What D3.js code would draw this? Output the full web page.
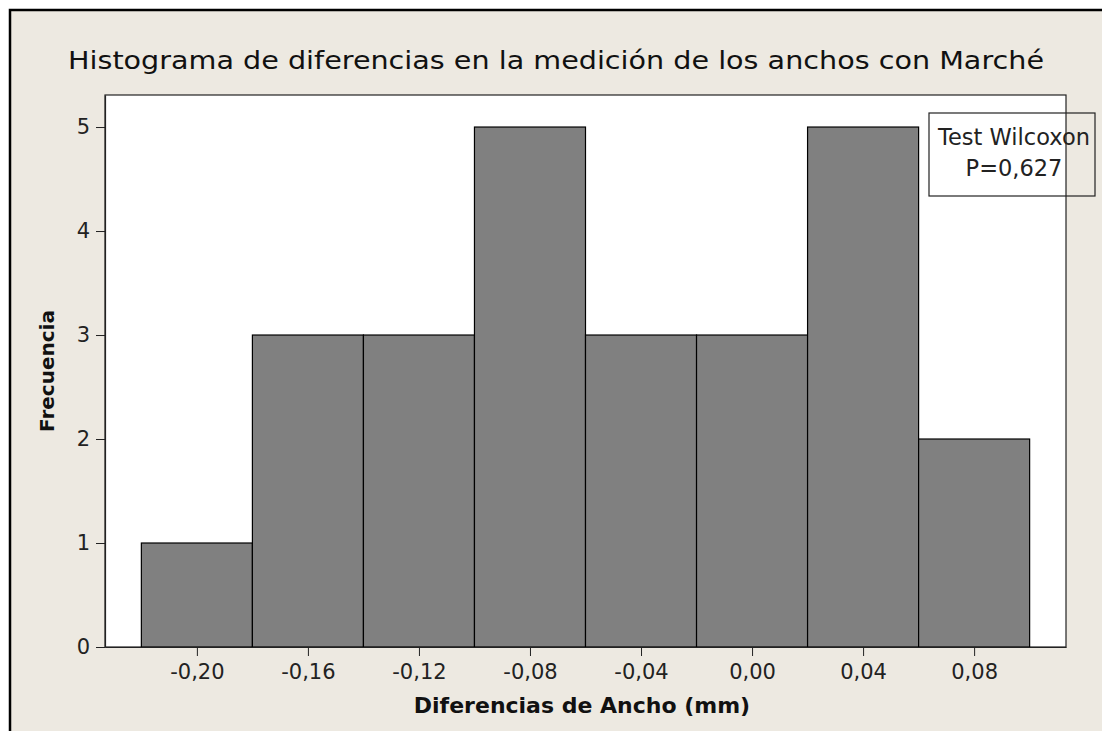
<!DOCTYPE html>
<html>
<head>
<meta charset="utf-8">
<script src="https://cdn.jsdelivr.net/npm/d3@7"></script>
<style>
  body { margin: 0; background: #fff; }
  svg { display: block; }
</style>
</head>
<body>
<svg id="svg" width="1102" height="731"></svg>
<script>
// bin centres and counts
const binCenters = [-0.20, -0.16, -0.12, -0.08, -0.04, 0.00, 0.04, 0.08]
const counts = [1, 3, 3, 5, 3, 3, 5, 2]
const binWidth = 0.04
const xTicks = [-0.20, -0.16, -0.12, -0.08, -0.04, 0.00, 0.04, 0.08]
const yTicks = [0, 1, 2, 3, 4, 5]
const legendLines = ['Test Wilcoxon', 'P=0,627']

const width = 1102
const height = 731
const plot = { left: 105, top: 95, right: 1066, bottom: 647 }
const font = '"DejaVu Sans", Verdana, sans-serif'

const svg = d3.select('#svg')

// background panel with the top/left frame
svg.append('rect')
  .attr('x', 10).attr('y', 10)
  .attr('width', width - 10).attr('height', height - 10)
  .attr('fill', '#ede9e1')
svg.append('path')
  .attr('d', `M10,${height} V10 H${width}`)
  .attr('fill', 'none')
  .attr('stroke', '#000')
  .attr('stroke-width', 2.5)

const x = d3.scaleLinear()
  .domain([-0.2331, 0.1131])
  .range([plot.left, plot.right])

const y = d3.scaleLinear()
  .domain([0, 5.308])
  .range([plot.bottom, plot.top])

// plot area
svg.append('rect')
  .attr('x', plot.left).attr('y', plot.top)
  .attr('width', plot.right - plot.left).attr('height', plot.bottom - plot.top)
  .attr('fill', '#fff')
  .attr('stroke', '#222')
  .attr('stroke-width', 1.2)

// bars
svg.append('g')
  .selectAll('rect')
  .data(binCenters.map((c, i) => ({ c, n: counts[i] })))
  .join('rect')
  .attr('x', d => x(d.c - binWidth / 2))
  .attr('y', d => y(d.n))
  .attr('width', d => x(d.c + binWidth / 2) - x(d.c - binWidth / 2))
  .attr('height', d => y(0) - y(d.n))
  .attr('fill', '#808080')
  .attr('stroke', '#000')
  .attr('stroke-width', 1.2)

const fmt = v => d3.format('.2f')(v).replace('.', ',').replace('−', '-')

// x axis
const xAxis = svg.append('g')
  .attr('transform', `translate(0,${plot.bottom})`)
  .call(d3.axisBottom(x).tickValues(xTicks).tickFormat(fmt).tickSize(9).tickSizeOuter(0))
xAxis.select('.domain').attr('stroke', '#222').attr('stroke-width', 1.2)
xAxis.selectAll('.tick line').attr('stroke', '#222')
xAxis.selectAll('text')
  .attr('y', 17)
  .attr('dy', '0.71em')
  .attr('font-family', font)
  .attr('font-size', 21)
  .attr('fill', '#222')

// y axis
const yAxis = svg.append('g')
  .attr('transform', `translate(${plot.left},0)`)
  .call(d3.axisLeft(y).tickValues(yTicks).tickFormat(d3.format('d')).tickSize(9).tickSizeOuter(0))
yAxis.select('.domain').attr('stroke', '#222').attr('stroke-width', 1.2)
yAxis.selectAll('.tick line').attr('stroke', '#222')
yAxis.selectAll('text')
  .attr('x', -15)
  .attr('font-family', font)
  .attr('font-size', 21)
  .attr('fill', '#222')

// title
svg.append('text')
  .attr('x', 556)
  .attr('y', 69)
  .attr('text-anchor', 'middle')
  .attr('textLength', 976)
  .attr('lengthAdjust', 'spacingAndGlyphs')
  .attr('font-family', font)
  .attr('font-size', 25)
  .attr('fill', '#111')
  .text('Histograma de diferencias en la medición de los anchos con Marché')

// axis titles
svg.append('text')
  .attr('x', 582)
  .attr('y', 713)
  .attr('text-anchor', 'middle')
  .attr('font-family', font)
  .attr('font-size', 22)
  .attr('font-weight', 'bold')
  .attr('fill', '#111')
  .text('Diferencias de Ancho (mm)')

svg.append('text')
  .attr('transform', `translate(54,${(plot.top + plot.bottom) / 2}) rotate(-90)`)
  .attr('text-anchor', 'middle')
  .attr('font-family', font)
  .attr('font-size', 20)
  .attr('font-weight', 'bold')
  .attr('fill', '#111')
  .text('Frecuencia')

// legend box
svg.append('rect')
  .attr('x', 929).attr('y', 113)
  .attr('width', 166).attr('height', 83)
  .attr('fill', 'none')
  .attr('stroke', '#222')
  .attr('stroke-width', 1.2)

svg.append('g')
  .selectAll('text')
  .data(legendLines)
  .join('text')
  .attr('x', 1014)
  .attr('y', (d, i) => 145 + i * 31)
  .attr('text-anchor', 'middle')
  .attr('font-family', font)
  .attr('font-size', 22.5)
  .attr('fill', '#222')
  .text(d => d)
</script>
</body>
</html>
